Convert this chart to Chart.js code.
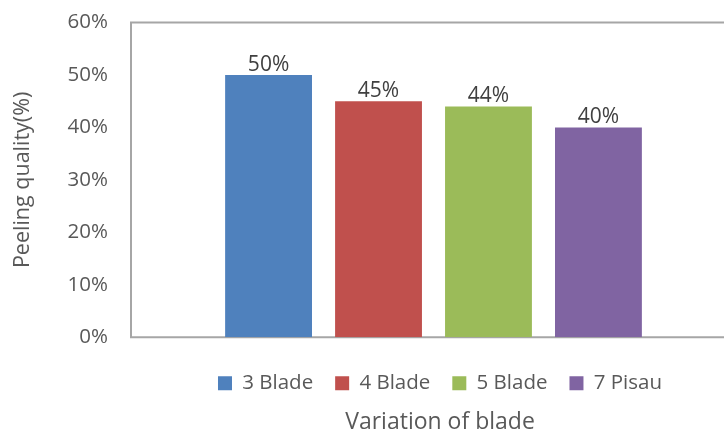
<!DOCTYPE html>
<html>
<head>
<meta charset="utf-8">
<script src="https://cdn.jsdelivr.net/npm/chart.js@4/dist/chart.umd.min.js"></script>
<style>
  html, body { margin: 0; padding: 0; background: #fff; overflow: hidden; }
  #wrap { width: 880px; height: 434px; }
</style>
</head>
<body>
<div id="wrap"><canvas id="chartBlade" width="880" height="434"></canvas></div>
<script>
// Datos del ensayo: calidad de pelado por variación de cuchilla
const blades = ['3 Blade', '4 Blade', '5 Blade', '7 Pisau'];
const quality = [0.50, 0.45, 0.44, 0.40];
const barColors = ['#4f81bd', '#c0504d', '#9bbb59', '#8064a2'];
const yTicks = [0, 0.1, 0.2, 0.3, 0.4, 0.5, 0.6];

const FONT = "'Open Sans', sans-serif";
const GRIS_TEXTO = '#595959';
const GRIS_BORDE = '#a6a6a6';

const pct = v => `${Math.round(v * 100)}%`;

// Marco gris del área de trazado
const marcoPlugin = {
    id: 'marco',
    beforeDatasetsDraw(chart) {
        const {ctx, chartArea: a} = chart;
        ctx.save();
        ctx.strokeStyle = GRIS_BORDE;
        ctx.lineWidth = 2;
        ctx.strokeRect(a.left, a.top, a.right - a.left, a.bottom - a.top);
        ctx.restore();
    }
};

// Etiquetas de valor encima de cada barra
const etiquetasPlugin = {
    id: 'etiquetas',
    afterDatasetsDraw(chart) {
        const {ctx} = chart;
        ctx.save();
        ctx.font = `21px ${FONT}`;
        ctx.fillStyle = '#404040';
        ctx.textAlign = 'center';
        ctx.textBaseline = 'alphabetic';
        chart.data.datasets.forEach((ds, i) => {
            chart.getDatasetMeta(i).data.forEach((bar, j) => {
                ctx.fillText(pct(ds.data[j]), bar.x, bar.y - 4);
            });
        });
        ctx.restore();
    }
};

const ctx = document.getElementById('chartBlade').getContext('2d');
new Chart(ctx, {
    type: 'bar',
    data: {
        labels: [''],
        datasets: blades.map((name, i) => ({
            label: name,
            data: [quality[i]],
            backgroundColor: barColors[i],
            categoryPercentage: 0.727,
            barPercentage: 0.79
        }))
    },
    options: {
        responsive: false,
        animation: false,
        layout: { padding: { top: 22.5, left: 0, right: 0, bottom: 0 } },
        plugins: {
            legend: {
                position: 'bottom',
                labels: {
                    color: GRIS_TEXTO,
                    font: { family: FONT, size: 20.5 },
                    boxWidth: 14,
                    boxHeight: 14,
                    padding: 22
                }
            },
            title: {
                display: true,
                position: 'bottom',
                text: 'Variation of blade',
                color: GRIS_TEXTO,
                font: { family: FONT, size: 23, weight: 'normal', lineHeight: 1 },
                padding: { top: 7.5, bottom: 0 }
            },
            tooltip: { enabled: false }
        },
        scales: {
            x: {
                grid: { display: false },
                border: { display: false },
                ticks: { display: false },
                afterFit: s => { s.height = 13.75; }
            },
            y: {
                min: 0,
                max: 0.6,
                afterBuildTicks: s => { s.ticks = yTicks.map(v => ({ value: v })); },
                // la separación de las etiquetas sale de tickLength (las marcas no se dibujan)
                grid: { display: false, tickLength: 23 },
                border: { display: false },
                ticks: {
                    color: GRIS_TEXTO,
                    font: { family: FONT, size: 20.5 },
                    padding: 0,
                    callback: v => pct(v)
                },
                title: {
                    display: true,
                    text: 'Peeling quality(%)',
                    color: GRIS_TEXTO,
                    font: { family: FONT, size: 21.5 },
                    padding: { top: 10, bottom: 0 }
                },
                afterFit: s => { s.width = 131; }
            },
            // eje vacío a la derecha: reserva el espacio sobrante del área de trazado
            y2: {
                position: 'right',
                min: 0,
                max: 0.6,
                grid: { display: false },
                border: { display: false },
                ticks: { display: false },
                afterFit: s => { s.width = 144; }
            }
        }
    },
    plugins: [marcoPlugin, etiquetasPlugin]
});
</script>
</body>
</html>
